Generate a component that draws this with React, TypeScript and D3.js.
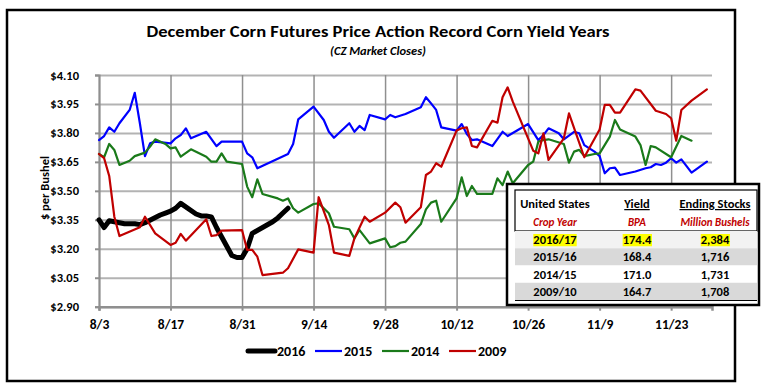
import React, { useEffect, useRef } from 'react'
import * as d3 from 'd3'

const FONT = 'Carlito, "Liberation Sans Narrow", "Arial Narrow", "Liberation Sans", Arial, sans-serif'

const tickLabels = ['8/3', '8/17', '8/31', '9/14', '9/28', '10/12', '10/26', '11/9', '11/23']
const yTickValues = [2.9, 3.05, 3.2, 3.35, 3.5, 3.65, 3.8, 3.95, 4.1]

const dates2016 = ['8/3', '8/4', '8/5', '8/8', '8/9', '8/10', '8/11', '8/12', '8/15', '8/16', '8/17', '8/18', '8/19',
    '8/22', '8/23', '8/24', '8/25', '8/26', '8/29', '8/30', '8/31', '9/1', '9/2', '9/6', '9/7', '9/8', '9/9']
const prices2016 = [3.35, 3.31, 3.345, 3.33, 3.33, 3.33, 3.325, 3.335, 3.375, 3.385, 3.395, 3.41, 3.435,
    3.38, 3.37, 3.37, 3.365, 3.31, 3.165, 3.155, 3.155, 3.2, 3.28, 3.34, 3.36, 3.385, 3.41]

const dates2015 = ['8/3', '8/4', '8/5', '8/6', '8/7', '8/9', '8/10', '8/11', '8/12', '8/13', '8/14', '8/17', '8/18',
    '8/19', '8/20', '8/21', '8/24', '8/26', '8/27', '8/31', '9/1', '9/2', '9/3', '9/9', '9/10', '9/11', '9/14',
    '9/16', '9/17', '9/18', '9/21', '9/22', '9/23', '9/24', '9/25', '9/28', '9/29', '9/30', '10/2', '10/5', '10/6',
    '10/7', '10/8', '10/9', '10/12', '10/13', '10/14', '10/15', '10/16', '10/19', '10/21', '10/22', '10/26',
    '10/28', '10/29', '10/30', '11/1', '11/2', '11/4', '11/5', '11/6', '11/8', '11/9', '11/10', '11/11', '11/12',
    '11/13', '11/16', '11/18', '11/19', '11/20', '11/21', '11/22', '11/23', '11/24', '11/25', '11/27', '11/30']
const prices2015 = [3.763, 3.784, 3.829, 3.806, 3.85, 3.919, 4.008, 3.85, 3.68, 3.746, 3.755, 3.746, 3.772,
    3.789, 3.824, 3.772, 3.806, 3.732, 3.755, 3.755, 3.694, 3.674, 3.617, 3.691, 3.743, 3.87, 3.936,
    3.867, 3.806, 3.775, 3.85, 3.806, 3.836, 3.815, 3.893, 3.87, 3.893, 3.881, 3.898, 3.933, 3.985,
    3.953, 3.919, 3.829, 3.812, 3.846, 3.794, 3.763, 3.767, 3.732, 3.806, 3.784, 3.846,
    3.763, 3.789, 3.824, 3.798, 3.767, 3.806, 3.798, 3.737, 3.703, 3.68, 3.591, 3.617, 3.62,
    3.582, 3.6, 3.617, 3.622, 3.639, 3.634, 3.646, 3.669, 3.646, 3.663, 3.594, 3.651]

const dates2014 = ['8/3', '8/4', '8/5', '8/6', '8/7', '8/9', '8/10', '8/12', '8/13', '8/14', '8/16', '8/17', '8/18',
    '8/19', '8/21', '8/24', '8/25', '8/26', '8/27', '8/28', '8/31', '9/1', '9/2', '9/3', '9/4', '9/7', '9/8', '9/9',
    '9/10', '9/11', '9/14', '9/15', '9/17', '9/18', '9/21', '9/22', '9/23', '9/25', '9/28', '9/29', '9/30', '10/1',
    '10/2', '10/5', '10/6', '10/7', '10/8', '10/9', '10/12', '10/13', '10/14', '10/15', '10/16', '10/19', '10/20',
    '10/21', '10/22', '10/23', '10/26', '10/27', '10/28', '10/29', '10/30', '11/2', '11/3', '11/4', '11/5', '11/6',
    '11/8', '11/9', '11/11', '11/12', '11/13', '11/16', '11/17', '11/18', '11/19', '11/20', '11/23', '11/25', '11/27']
const prices2014 = [3.691, 3.674, 3.743, 3.712, 3.634, 3.656, 3.68, 3.698, 3.729, 3.767, 3.743, 3.72, 3.725,
    3.677, 3.715, 3.677, 3.651, 3.651, 3.694, 3.651, 3.639, 3.522, 3.467, 3.56, 3.484, 3.461, 3.449, 3.461,
    3.41, 3.387, 3.432, 3.435, 3.384, 3.314, 3.301, 3.254, 3.297, 3.228, 3.254, 3.208, 3.214, 3.231,
    3.237, 3.328, 3.404, 3.439, 3.449, 3.34, 3.461, 3.57, 3.473, 3.525, 3.484, 3.484, 3.565,
    3.53, 3.6, 3.539, 3.634, 3.651, 3.755, 3.763, 3.767, 3.743, 3.646, 3.703, 3.712, 3.68,
    3.691, 3.694, 3.781, 3.867, 3.818, 3.781, 3.737, 3.634, 3.732, 3.725, 3.674, 3.784, 3.76]

const dates2009 = ['8/3', '8/4', '8/5', '8/6', '8/7', '8/11', '8/12', '8/14', '8/17', '8/18', '8/19', '8/20', '8/24',
    '8/25', '8/26', '8/27', '8/31', '9/1', '9/2', '9/3', '9/4', '9/8', '9/9', '9/11', '9/14', '9/15', '9/17', '9/18',
    '9/21', '9/22', '9/24', '9/25', '9/28', '9/30', '10/1', '10/2', '10/5', '10/6', '10/7', '10/8', '10/9', '10/12',
    '10/13', '10/14', '10/15', '10/16', '10/19', '10/20', '10/21', '10/22', '10/23', '10/27', '10/28', '10/29',
    '10/30', '11/2', '11/3', '11/6', '11/9', '11/10', '11/11', '11/12', '11/13', '11/16', '11/17', '11/20', '11/22',
    '11/23', '11/24', '11/25', '11/27', '11/30']
const prices2009 = [3.691, 3.669, 3.577, 3.366, 3.266, 3.311, 3.366, 3.28, 3.22, 3.231, 3.277, 3.242, 3.353,
    3.266, 3.271, 3.294, 3.297, 3.194, 3.194, 3.159, 3.064, 3.076, 3.099, 3.197, 3.18, 3.467, 3.323, 3.18,
    3.163, 3.254, 3.366, 3.34, 3.387, 3.439, 3.415, 3.335, 3.415, 3.582, 3.6, 3.643, 3.625, 3.812,
    3.824, 3.829, 3.732, 3.725, 3.863, 3.853, 3.985, 4.036, 3.962, 3.708, 3.694, 3.798,
    3.66, 3.772, 3.901, 3.674, 3.818, 3.945, 3.945, 3.905, 3.905, 4.026, 4.019, 3.915, 3.898,
    3.876, 3.76, 3.919, 3.967, 4.026]

const seriesNames = ['2016', '2015', '2014', '2009']
const seriesColors = ['#000000', '#0000ff', '#1a7a1a', '#c00000']
const seriesDates = [dates2016, dates2015, dates2014, dates2009]
const seriesPrices = [prices2016, prices2015, prices2014, prices2009]

const tableHeader = ['United States', 'Yield', 'Ending Stocks']
const tableSubHeader = ['Crop Year', 'BPA', 'Million Bushels']
const cropYears = ['2016/17', '2015/16', '2014/15', '2009/10']
const yields = ['174.4', '168.4', '171.0', '164.7']
const endingStocks = ['2,384', '1,716', '1,731', '1,708']

const parseDate = (s: string) => d3.timeParse('%m/%d/%Y')(s + '/2016') as Date

const CornChart = () => {
    const ref = useRef<SVGSVGElement | null>(null)

    useEffect(() => {
        const svg = d3.select(ref.current)
        svg.selectAll('*').remove()

        const left = 99
        const right = 712
        const top = 75
        const bottom = 306.7

        const xScale = d3.scaleTime()
            .domain([parseDate('8/3'), parseDate('12/1')])
            .range([left, right])

        const yScale = d3.scaleLinear()
            .domain([2.9, 4.1])
            .range([bottom, top])

        svg.append('rect')
            .attr('width', 770).attr('height', 389).attr('fill', '#fff')

        // outer frame
        svg.append('rect')
            .attr('x', 7).attr('y', 10).attr('width', 728).attr('height', 371)
            .attr('fill', 'none').attr('stroke', '#000').attr('stroke-width', 2.5)

        svg.append('text')
            .attr('x', 378).attr('y', 37)
            .attr('text-anchor', 'middle')
            .attr('font-family', FONT).attr('font-weight', 'bold').attr('font-size', 16)
            .attr('textLength', 463).attr('lengthAdjust', 'spacingAndGlyphs')
            .text('December Corn Futures Price Action Record Corn Yield Years')

        svg.append('text')
            .attr('x', 378).attr('y', 55)
            .attr('text-anchor', 'middle')
            .attr('font-family', FONT).attr('font-weight', 'bold').attr('font-style', 'italic').attr('font-size', 12.5)
            .text('(CZ Market Closes)')

        // horizontal grid
        svg.append('g')
            .attr('transform', `translate(${left},0)`)
            .call(d3.axisLeft(yScale).tickValues(yTickValues).tickSize(-(right - left)).tickFormat(() => ''))
            .call(g => g.select('.domain').remove())
            .call(g => g.selectAll('.tick line').attr('stroke', '#b3b3b3').attr('stroke-width', 2))

        // vertical grid
        svg.append('g')
            .attr('transform', `translate(0,${bottom})`)
            .call(d3.axisBottom(xScale).tickValues(tickLabels.map(parseDate)).tickSize(-(bottom - top)).tickFormat(() => ''))
            .call(g => g.select('.domain').remove())
            .call(g => g.selectAll('.tick line').attr('stroke', '#8f8f8f').attr('stroke-width', 1.5))

        // y axis
        svg.append('g')
            .attr('transform', `translate(${left},0)`)
            .call(d3.axisLeft(yScale).tickValues(yTickValues).tickSize(4).tickPadding(16)
                .tickFormat(v => '$' + (+v).toFixed(2)))
            .call(g => g.select('.domain').attr('stroke', '#8f8f8f').attr('stroke-width', 2))
            .call(g => g.selectAll('.tick line').attr('stroke', '#8f8f8f').attr('stroke-width', 2))
            .call(g => g.selectAll('text')
                .attr('font-family', FONT).attr('font-weight', 'bold').attr('font-size', 12.5).attr('fill', '#000'))

        // x axis
        svg.append('g')
            .attr('transform', `translate(0,${bottom})`)
            .call(d3.axisBottom(xScale).tickValues(tickLabels.map(parseDate)).tickSize(4).tickPadding(9)
                .tickFormat((d, i) => tickLabels[i]))
            .call(g => g.select('.domain').attr('stroke', '#8f8f8f').attr('stroke-width', 2.5))
            .call(g => g.selectAll('.tick line').attr('stroke', '#8f8f8f').attr('stroke-width', 2))
            .call(g => g.selectAll('text')
                .attr('font-family', FONT).attr('font-weight', 'bold').attr('font-size', 13.5).attr('fill', '#000'))

        svg.append('text')
            .attr('transform', 'translate(49,188) rotate(-90)')
            .attr('text-anchor', 'middle')
            .attr('font-family', FONT).attr('font-weight', 'bold').attr('font-size', 12.5)
            .text('$ per Bushel')

        const line = d3.line<[Date, number]>()
            .x(d => xScale(d[0]))
            .y(d => yScale(d[1]))

        seriesNames.forEach((name, s) => {
            const pts: [Date, number][] = seriesDates[s].map((d, i) => [parseDate(d), seriesPrices[s][i]])
            svg.append('path')
                .datum(pts)
                .attr('d', line)
                .attr('fill', 'none')
                .attr('stroke', seriesColors[s])
                .attr('stroke-width', s === 0 ? 5 : 2.2)
                .attr('stroke-linejoin', 'round')
                .attr('stroke-linecap', 'round')
        })

        // legend
        const legendX = d3.scalePoint().domain(seriesNames).range([248, 449])
        const legend = svg.append('g')
        seriesNames.forEach((name, s) => {
            const x = legendX(name) as number
            legend.append('line')
                .attr('x1', x).attr('x2', x + 27).attr('y1', 351).attr('y2', 351)
                .attr('stroke', seriesColors[s]).attr('stroke-width', s === 0 ? 5 : 2.2)
                .attr('stroke-linecap', s === 0 ? 'round' : 'butt')
            legend.append('text')
                .attr('x', x + 29).attr('y', 356)
                .attr('font-family', FONT).attr('font-weight', 'bold').attr('font-size', 14)
                .text(name)
        })

        // table
        const tb = svg.append('g')
        tb.append('rect')
            .attr('x', 507).attr('y', 184).attr('width', 252).attr('height', 121)
            .attr('fill', '#fff').attr('stroke', '#000').attr('stroke-width', 2.5)
        tb.append('rect')
            .attr('x', 515).attr('y', 190).attr('width', 242).attr('height', 41)
            .attr('fill', '#fff').attr('stroke', '#000').attr('stroke-width', 1.2)

        const colX = [555, 637, 715]
        const rowY = d3.scaleBand().domain(cropYears).range([231, 300])
        const rowFill = ['#f2f2f2', '#d9d9d9', '#ffffff', '#d9d9d9']
        tb.append('line')
            .attr('x1', 515).attr('x2', 757).attr('y1', 300.5).attr('y2', 300.5)
            .attr('stroke', '#000').attr('stroke-width', 1)

        tableHeader.forEach((h, i) => {
            tb.append('text')
                .attr('x', colX[i]).attr('y', 208)
                .attr('text-anchor', 'middle')
                .attr('font-family', FONT).attr('font-weight', 'bold').attr('font-size', 12.5)
                .attr('text-decoration', i > 0 ? 'underline' : null)
                .text(h)
            tb.append('text')
                .attr('x', colX[i]).attr('y', 226)
                .attr('text-anchor', 'middle')
                .attr('font-family', FONT).attr('font-weight', 'bold').attr('font-style', 'italic')
                .attr('font-size', 11).attr('fill', '#c00000')
                .text(tableSubHeader[i])
        })

        cropYears.forEach((yr, r) => {
            const y0 = rowY(yr) as number
            const h = rowY.bandwidth()
            tb.append('rect')
                .attr('x', 515).attr('y', y0).attr('width', 242).attr('height', h)
                .attr('fill', rowFill[r])
            const cells = [yr, yields[r], endingStocks[r]]
            cells.forEach((c, i) => {
                const t = tb.append('text')
                    .attr('x', colX[i]).attr('y', y0 + h / 2 + 4.5)
                    .attr('text-anchor', 'middle')
                    .attr('font-family', FONT).attr('font-weight', 'bold').attr('font-size', 12.5)
                    .text(c)
                if (r === 0) {
                    const bb = (t.node() as SVGTextElement).getBBox()
                    tb.insert('rect', () => t.node())
                        .attr('x', bb.x).attr('y', y0 + 3).attr('width', bb.width).attr('height', h - 5)
                        .attr('fill', '#ffff00')
                }
            })
        })
    }, [])

    return <svg ref={ref} width={770} height={389} style={{ position: 'absolute', left: 0, top: 0 }} />
}

export default function App() {
    return <CornChart />
}
